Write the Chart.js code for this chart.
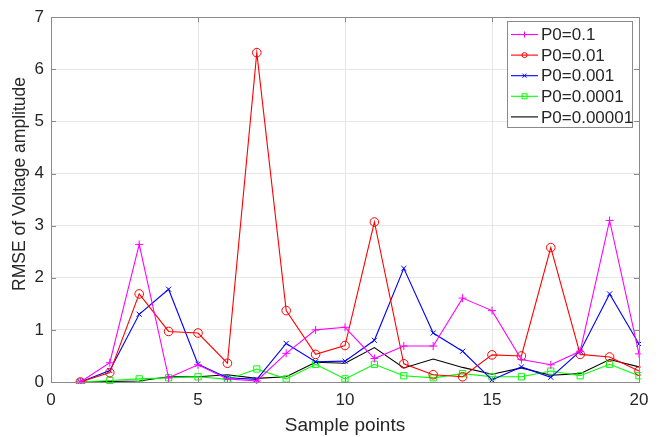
<!DOCTYPE html>
<html>
<head>
<meta charset="utf-8">
<script src="https://cdn.jsdelivr.net/npm/chart.js@4/dist/chart.umd.min.js"></script>
<style>
  html, body { margin: 0; padding: 0; background: #ffffff; }
  canvas { display: block; }
</style>
</head>
<body>
<canvas id="c" width="661" height="437"></canvas>
<script>
// Sample index along the x axis
const samplePoints = [1, 2, 3, 4, 5, 6, 7, 8, 9, 10, 11, 12, 13, 14, 15, 16, 17, 18, 19, 20];

// RMSE of voltage amplitude for each initial covariance P0
const rmseP0_1     = [0, 0.37, 2.64, 0.08, 0.33, 0.06, 0.02, 0.55, 1.00, 1.05, 0.45, 0.69, 0.69, 1.61, 1.37, 0.43, 0.33, 0.59, 3.10, 0.54];
const rmseP0_01    = [0, 0.18, 1.69, 0.97, 0.94, 0.36, 6.32, 1.37, 0.53, 0.70, 3.07, 0.35, 0.14, 0.10, 0.52, 0.50, 2.58, 0.53, 0.48, 0.21];
const rmseP0_001   = [0, 0.22, 1.30, 1.78, 0.34, 0.08, 0.05, 0.74, 0.39, 0.40, 0.80, 2.18, 0.94, 0.59, 0.04, 0.29, 0.09, 0.59, 1.69, 0.73];
const rmseP0_0001  = [0, 0.03, 0.06, 0.08, 0.10, 0.05, 0.25, 0.06, 0.34, 0.06, 0.34, 0.12, 0.08, 0.16, 0.10, 0.10, 0.21, 0.12, 0.34, 0.12];
const rmseP0_00001 = [0, 0.01, 0.02, 0.10, 0.10, 0.14, 0.07, 0.10, 0.38, 0.36, 0.66, 0.27, 0.44, 0.28, 0.15, 0.27, 0.13, 0.16, 0.43, 0.29];

const seriesLabels = ['P0=0.1', 'P0=0.01', 'P0=0.001', 'P0=0.0001', 'P0=0.00001'];
const seriesValues = [rmseP0_1, rmseP0_01, rmseP0_001, rmseP0_0001, rmseP0_00001];

const xTickValues = [0, 5, 10, 15, 20];
const yTickValues = [0, 1, 2, 3, 4, 5, 6, 7];

const xTitle = 'Sample points';
const yTitle = 'RMSE of Voltage amplitude';

// Styling per series
const seriesColors = ['#ff00ff', '#ff0000', '#0000ff', '#00ff00', '#000000'];
const seriesMarkers = ['cross', 'circle', 'crossRot', 'rect', false];
const markerRadius = [4, 4.3, 3.6, 4.4, 0];

const FONT = '"Liberation Sans", Arial, Helvetica, sans-serif';
const TEXT = '#262626';
const AXIS = '#8a8a8a';
const GRID = '#e6e6e6';

const datasets = seriesValues.map((vals, i) => ({
  label: seriesLabels[i],
  data: samplePoints.map((x, k) => ({ x: x, y: vals[k] })),
  borderColor: seriesColors[i],
  backgroundColor: 'rgba(0,0,0,0)',
  borderWidth: 1.1,
  pointStyle: seriesMarkers[i],
  pointRadius: markerRadius[i],
  pointBorderWidth: 1,
  pointBorderColor: seriesColors[i],
  pointBackgroundColor: 'rgba(0,0,0,0)',
  tension: 0,
  clip: 2
}));

// Axes box with inward tick marks on all four sides, plus the rotated y title
const boxPlugin = {
  id: 'axesBox',
  afterDatasetsDraw(chart) {
    const { ctx, chartArea: a, scales } = chart;
    ctx.save();
    ctx.strokeStyle = AXIS;
    ctx.lineWidth = 1;
    ctx.strokeRect(Math.round(a.left) + 0.5, Math.round(a.top) + 0.5,
                   Math.round(a.right - a.left), Math.round(a.bottom - a.top));
    const tl = 5;
    ctx.beginPath();
    xTickValues.forEach(v => {
      const px = Math.round(scales.x.getPixelForValue(v)) + 0.5;
      ctx.moveTo(px, a.bottom); ctx.lineTo(px, a.bottom - tl);
      ctx.moveTo(px, a.top); ctx.lineTo(px, a.top + tl);
    });
    yTickValues.forEach(v => {
      const py = Math.round(scales.y.getPixelForValue(v)) + 0.5;
      ctx.moveTo(a.left, py); ctx.lineTo(a.left + tl, py);
      ctx.moveTo(a.right, py); ctx.lineTo(a.right - tl, py);
    });
    ctx.stroke();

    ctx.fillStyle = TEXT;
    ctx.font = '17.5px ' + FONT;
    ctx.textAlign = 'center';
    ctx.textBaseline = 'middle';
    ctx.translate(20, 184);
    ctx.rotate(-Math.PI / 2);
    ctx.fillText(yTitle, 0, 0);
    ctx.restore();
  },
  afterDraw(chart) {
    // Legend box in the upper right corner of the plot
    const { ctx } = chart;
    const bx = 507.5, by = 21.5, bw = 125, bh = 106;
    ctx.save();
    ctx.fillStyle = '#ffffff';
    ctx.fillRect(bx, by, bw, bh);
    ctx.strokeStyle = AXIS;
    ctx.lineWidth = 1;
    ctx.strokeRect(bx, by, bw, bh);
    ctx.font = '17px ' + FONT;
    ctx.textAlign = 'left';
    ctx.textBaseline = 'middle';
    seriesLabels.forEach((lab, i) => {
      const y = 34.5 + i * 20.6;
      const x0 = 511, x1 = 538, xm = (x0 + x1) / 2;
      ctx.strokeStyle = seriesColors[i];
      ctx.lineWidth = 1.1;
      ctx.beginPath();
      ctx.moveTo(x0, y); ctx.lineTo(x1, y);
      ctx.stroke();
      ctx.lineWidth = 1;
      ctx.beginPath();
      const s = seriesMarkers[i];
      if (s === 'cross') {
        ctx.moveTo(xm, y - 3); ctx.lineTo(xm, y + 3);
      } else if (s === 'circle') {
        ctx.arc(xm, y, 2.5, 0, Math.PI * 2);
      } else if (s === 'crossRot') {
        ctx.moveTo(xm - 2, y - 2); ctx.lineTo(xm + 2, y + 2);
        ctx.moveTo(xm - 2, y + 2); ctx.lineTo(xm + 2, y - 2);
      } else if (s === 'rect') {
        ctx.rect(xm - 2.5, y - 2.5, 5, 5);
      }
      ctx.stroke();
      ctx.fillStyle = TEXT;
      ctx.fillText(lab, 541, y + 1);
    });
    ctx.restore();
  }
};

new Chart(document.getElementById('c'), {
  type: 'line',
  data: { datasets: datasets },
  options: {
    responsive: false,
    animation: false,
    devicePixelRatio: 1,
    layout: { padding: { top: 14, right: 22, left: 0, bottom: 0 } },
    plugins: {
      legend: { display: false },
      tooltip: { enabled: false }
    },
    scales: {
      x: {
        type: 'linear',
        min: 0,
        max: 20,
        afterBuildTicks: s => { s.ticks = xTickValues.map(v => ({ value: v })); },
        afterFit: s => { s.height = 55; },
        ticks: { color: TEXT, font: { family: FONT, size: 17 }, padding: 8, maxRotation: 0 },
        grid: { color: GRID, drawTicks: false },
        border: { display: false },
        title: { display: true, text: xTitle, color: TEXT, font: { family: FONT, size: 19 }, padding: { top: 0, bottom: 0 } }
      },
      y: {
        type: 'linear',
        min: 0,
        max: 7,
        afterBuildTicks: s => { s.ticks = yTickValues.map(v => ({ value: v })); },
        afterFit: s => { s.width = 51; },
        ticks: { color: TEXT, font: { family: FONT, size: 17 }, padding: 7 },
        grid: { color: GRID, drawTicks: false },
        border: { display: false }
      }
    }
  },
  plugins: [boxPlugin]
});
</script>
</body>
</html>
